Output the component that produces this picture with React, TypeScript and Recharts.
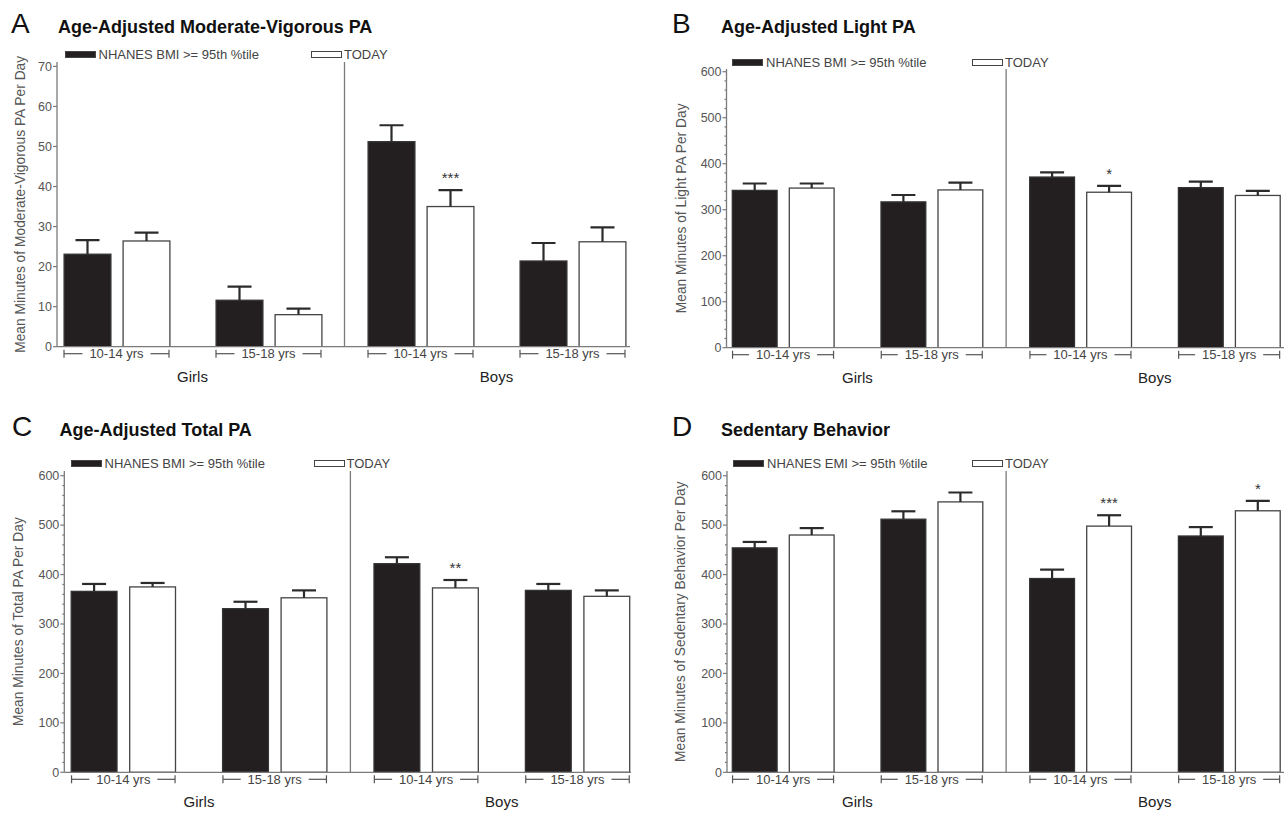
import { Bar, BarChart, Legend, ReferenceLine, XAxis, YAxis } from 'recharts'

// groups along the x axis
const groupAges = ['10-14 yrs', '15-18 yrs', '10-14 yrs', '15-18 yrs']
const groupSex = ['Girls', 'Girls', 'Boys', 'Boys']
const seriesNames = ['NHANES BMI >= 95th %tile', 'TODAY']
const seriesNamesSed = ['NHANES EMI >= 95th %tile', 'TODAY']

// A: moderate-vigorous PA (mean, upper SE)
const mvpaNhanes = [23.1, 11.6, 51.2, 21.4]
const mvpaNhanesErr = [3.5, 3.4, 4.1, 4.5]
const mvpaToday = [26.4, 8.0, 35.0, 26.2]
const mvpaTodayErr = [2.1, 1.5, 4.1, 3.6]
const mvpaSig = ['', '', '***', '']
const mvpaTicks = [0, 10, 20, 30, 40, 50, 60, 70]

// B: light PA
const lightNhanes = [342, 317, 371, 348]
const lightNhanesErr = [15, 15, 10, 13]
const lightToday = [347, 343, 338, 331]
const lightTodayErr = [10, 16, 14, 10]
const lightSig = ['', '', '*', '']

// C: total PA
const totalNhanes = [366, 331, 422, 368]
const totalNhanesErr = [15, 14, 13, 13]
const totalToday = [375, 353, 373, 356]
const totalTodayErr = [8, 15, 16, 12]
const totalSig = ['', '', '**', '']

// D: sedentary behavior
const sedNhanes = [454, 512, 392, 478]
const sedNhanesErr = [12, 16, 18, 18]
const sedToday = [480, 547, 498, 529]
const sedTodayErr = [14, 19, 22, 20]
const sedSig = ['', '', '***', '*']

const minutesTicks = Array.from({ length: 31 }, (_, i) => i * 20)

const FONT = "'Liberation Sans', Arial, Helvetica, sans-serif"
const FRAME = '#7a7a7a'
const BLACK = '#231f20'

interface PanelConfig {
  letter: string
  title: string
  yLabel: string
  names: string[]
  nhanes: number[]
  nhanesErr: number[]
  today: number[]
  todayErr: number[]
  sig: string[]
  yTicks: number[]
  majorStep: number
  yMax: number
  left: number
  top: number
  width: number
  height: number
  plotLeft: number
  plotRight: number
  plotTop: number
  plotBottom: number
  bandStart: number
  bandEnd: number
  barSize: number
  barGap: number
  labelX: number
  legendX: number
  legendY: number
  legendItem: number
  letterX: number
  titleX: number
  titleY: number
}

const panels: PanelConfig[] = [
  {
    letter: 'A', title: 'Age-Adjusted Moderate-Vigorous PA', yLabel: 'Mean Minutes of Moderate-Vigorous PA Per Day',
    names: seriesNames, nhanes: mvpaNhanes, nhanesErr: mvpaNhanesErr, today: mvpaToday, todayErr: mvpaTodayErr, sig: mvpaSig,
    yTicks: mvpaTicks, majorStep: 10, yMax: 71.1,
    left: 0, top: 0, width: 642, height: 400,
    plotLeft: 57, plotRight: 630, plotTop: 62, plotBottom: 346.7, bandStart: 40.5, bandEnd: 648.5,
    barSize: 48, barGap: 11, labelX: 20, legendX: 64.5, legendY: 54.3, legendItem: 246.5,
    letterX: 11, titleX: 58, titleY: 33.3
  },
  {
    letter: 'B', title: 'Age-Adjusted Light PA', yLabel: 'Mean Minutes of Light PA Per Day',
    names: seriesNames, nhanes: lightNhanes, nhanesErr: lightNhanesErr, today: lightToday, todayErr: lightTodayErr, sig: lightSig,
    yTicks: minutesTicks, majorStep: 100, yMax: 605.9,
    left: 642, top: 0, width: 650, height: 400,
    plotLeft: 726.5, plotRight: 1286, plotTop: 69, plotBottom: 347.7, bandStart: 708.7, bandEnd: 1303.5,
    barSize: 46, barGap: 11, labelX: 681, legendX: 732, legendY: 62.7, legendItem: 240,
    letterX: 672, titleX: 721, titleY: 33.3
  },
  {
    letter: 'C', title: 'Age-Adjusted Total PA', yLabel: 'Mean Minutes of Total PA Per Day',
    names: seriesNames, nhanes: totalNhanes, nhanesErr: totalNhanesErr, today: totalToday, todayErr: totalTodayErr, sig: totalSig,
    yTicks: minutesTicks, majorStep: 100, yMax: 609.5,
    left: 0, top: 408, width: 642, height: 407,
    plotLeft: 64.3, plotRight: 631, plotTop: 471, plotBottom: 772.3, bandStart: 47.6, bandEnd: 653.2,
    barSize: 47, barGap: 11.5, labelX: 18, legendX: 70.5, legendY: 463.3, legendItem: 243,
    letterX: 12, titleX: 59.5, titleY: 435.5
  },
  {
    letter: 'D', title: 'Sedentary Behavior', yLabel: 'Mean Minutes of Sedentary Behavior Per Day',
    names: seriesNamesSed, nhanes: sedNhanes, nhanesErr: sedNhanesErr, today: sedToday, todayErr: sedTodayErr, sig: sedSig,
    yTicks: minutesTicks, majorStep: 100, yMax: 609.5,
    left: 642, top: 408, width: 650, height: 407,
    plotLeft: 727, plotRight: 1286, plotTop: 471, plotBottom: 772.3, bandStart: 708.7, bandEnd: 1303.5,
    barSize: 46, barGap: 11, labelX: 680, legendX: 733, legendY: 463.3, legendItem: 239,
    letterX: 672, titleX: 721, titleY: 435.5
  }
]

function BarWithError(props: any) {
  const { x, y, width, height, fill, stroke, payload, valueKey, errKey } = props
  const value = payload[valueKey]
  const unit = value ? height / value : 0
  const errTop = y - payload[errKey] * unit
  const cx = x + width / 2
  const sig = valueKey === 'today' ? payload.sig : ''
  return (
    <g>
      <rect x={x + 0.6} y={y} width={width - 1.2} height={height} fill={fill} stroke={stroke} strokeWidth={1.3} />
      <line x1={cx} x2={cx} y1={y} y2={errTop} stroke="#2b2b2b" strokeWidth={2.2} />
      <line x1={cx - 12} x2={cx + 12} y1={errTop} y2={errTop} stroke="#2b2b2b" strokeWidth={2.2} />
      {sig ? (
        <text x={cx} y={errTop - 7} textAnchor="middle" fontSize={15} fill="#333" fontFamily={FONT}>
          {sig}
        </text>
      ) : null}
    </g>
  )
}

function AgeTick(props: any) {
  const { x, y, index, half, rows } = props
  const i = typeof index === 'number' ? index : props.payload?.index ?? 0
  const label = rows[i]?.age ?? ''
  const ly = y + 7
  const inner = 34
  return (
    <g stroke="#555" strokeWidth={1.2}>
      <line x1={x - half} x2={x - inner} y1={ly} y2={ly} />
      <line x1={x - half} x2={x - half} y1={ly - 4} y2={ly + 4} />
      <line x1={x + inner} x2={x + half} y1={ly} y2={ly} />
      <line x1={x + half} x2={x + half} y1={ly - 4} y2={ly + 4} />
      <text x={x} y={ly + 4.6} textAnchor="middle" fontSize={13} fill="#444" stroke="none" fontFamily={FONT}>
        {label}
      </text>
    </g>
  )
}

function SexTick(props: any) {
  const { x, y, payload } = props
  return (
    <text x={x} y={y + 12.9} textAnchor="middle" fontSize={15} fill="#222" fontFamily={FONT}>
      {payload?.value ?? ''}
    </text>
  )
}

function YTick(props: any) {
  const { x, y, payload, majorStep } = props
  const v = payload.value
  const major = Math.abs(v / majorStep - Math.round(v / majorStep)) < 1e-6
  return (
    <g>
      <line x1={x - (major ? 4 : 2)} x2={x} y1={y} y2={y} stroke={FRAME} strokeWidth={1.2} />
      {major ? (
        <text x={x - 5} y={y + 4.3} textAnchor="end" fontSize={12.5} fill="#555" fontFamily={FONT}>
          {v}
        </text>
      ) : null}
    </g>
  )
}

function PanelLegend(props: any) {
  const { payload, itemWidth } = props
  return (
    <div style={{ display: 'flex', alignItems: 'center', height: 16, fontFamily: FONT, fontSize: 13, color: '#444', whiteSpace: 'nowrap' }}>
      {(payload || []).map((entry: any, i: number) => (
        <div key={entry.value} style={{ display: 'flex', alignItems: 'center', width: i === 0 ? itemWidth : 'auto' }}>
          <span
            style={{
              display: 'inline-block',
              boxSizing: 'border-box',
              width: 31,
              height: 7,
              background: entry.color,
              border: '1.3px solid #444',
              marginRight: i === 0 ? 3 : 2
            }}
          />
          <span>{entry.value}</span>
        </div>
      ))}
    </div>
  )
}

function Panel({ cfg }: { cfg: PanelConfig }) {
  const rows = cfg.nhanes.map((v, i) => ({
    key: `${groupSex[i]} ${groupAges[i]}`,
    age: groupAges[i],
    sex: groupSex[i],
    nhanes: v,
    nhanesErr: cfg.nhanesErr[i],
    today: cfg.today[i],
    todayErr: cfg.todayErr[i],
    sig: cfg.sig[i]
  }))
  const firstBoys = rows.find((r) => r.sex === 'Boys')?.sex ?? 'Boys'
  const padding = { left: cfg.bandStart - cfg.plotLeft, right: cfg.plotRight - cfg.bandEnd }
  const axisBoxLeft = cfg.labelX - 10
  const margin = {
    top: cfg.plotTop - cfg.top,
    left: axisBoxLeft - cfg.left,
    right: cfg.left + cfg.width - cfg.plotRight,
    bottom: cfg.top + cfg.height - cfg.plotBottom - 42
  }
  const half = cfg.barSize + cfg.barGap / 2 - 1

  return (
    <div style={{ position: 'absolute', left: cfg.left, top: cfg.top }}>
      <BarChart width={cfg.width} height={cfg.height} data={rows} margin={margin} barSize={cfg.barSize} barGap={cfg.barGap}>
        <XAxis
          dataKey="key"
          interval={0}
          padding={padding}
          axisLine={{ stroke: FRAME, strokeWidth: 1.3 }}
          tickLine={false}
          tickSize={0}
          tickMargin={0}
          height={22}
          tick={(p: any) => <AgeTick {...p} rows={rows} half={half} />}
        />
        <XAxis
          xAxisId="sex"
          dataKey="sex"
          allowDuplicatedCategory={false}
          interval={0}
          padding={padding}
          axisLine={false}
          tickLine={false}
          tickSize={0}
          tickMargin={0}
          height={20}
          tick={(p: any) => <SexTick {...p} />}
        />
        <XAxis
          xAxisId="top"
          orientation="top"
          dataKey="key"
          padding={padding}
          axisLine={{ stroke: FRAME, strokeWidth: 1.3 }}
          tick={false}
          tickLine={false}
          height={0}
        />
        <YAxis
          domain={[0, cfg.yMax]}
          allowDataOverflow
          ticks={cfg.yTicks}
          interval={0}
          width={cfg.plotLeft - axisBoxLeft}
          tickSize={0}
          tickMargin={0}
          tickLine={false}
          axisLine={{ stroke: FRAME, strokeWidth: 1.3 }}
          tick={(p: any) => <YTick {...p} majorStep={cfg.majorStep} />}
          label={{
            value: cfg.yLabel,
            angle: -90,
            position: 'insideLeft',
            offset: 10,
            textAnchor: 'middle',
            style: { textAnchor: 'middle', fontSize: 13.8, fill: '#555', fontFamily: FONT }
          }}
        />
        <YAxis yAxisId="right" orientation="right" width={0} tick={false} tickLine={false} axisLine={{ stroke: FRAME, strokeWidth: 1.3 }} />
        <ReferenceLine xAxisId="sex" x={firstBoys} position="start" stroke={FRAME} strokeWidth={1.3} />
        <Legend
          align="center"
          verticalAlign="middle"
          layout="horizontal"
          wrapperStyle={{ top: cfg.legendY - cfg.top - 8, left: cfg.legendX - cfg.left, width: 420, height: 16 }}
          content={(p: any) => <PanelLegend {...p} itemWidth={cfg.legendItem} />}
        />
        <Bar
          dataKey="nhanes"
          name={cfg.names[0]}
          fill={BLACK}
          stroke="#333"
          isAnimationActive={false}
          shape={(p: any) => <BarWithError {...p} valueKey="nhanes" errKey="nhanesErr" />}
        />
        <Bar
          dataKey="today"
          name={cfg.names[1]}
          fill="#ffffff"
          stroke="#444"
          isAnimationActive={false}
          shape={(p: any) => <BarWithError {...p} valueKey="today" errKey="todayErr" />}
        />
      </BarChart>
    </div>
  )
}

export default function App() {
  return (
    <div style={{ position: 'absolute', left: 0, top: 0, width: 1284, height: 815, overflow: 'hidden', background: '#ffffff' }}>
      {panels.map((cfg) => (
        <Panel key={cfg.letter} cfg={cfg} />
      ))}
      <svg width={1284} height={815} style={{ position: 'absolute', left: 0, top: 0, pointerEvents: 'none' }}>
        {panels.map((cfg) => (
          <g key={cfg.letter} fontFamily={FONT} fill="#111">
            <text x={cfg.letterX} y={cfg.titleY} fontSize={28}>
              {cfg.letter}
            </text>
            <text x={cfg.titleX} y={cfg.titleY} fontSize={18} fontWeight="bold">
              {cfg.title}
            </text>
          </g>
        ))}
      </svg>
    </div>
  )
}
